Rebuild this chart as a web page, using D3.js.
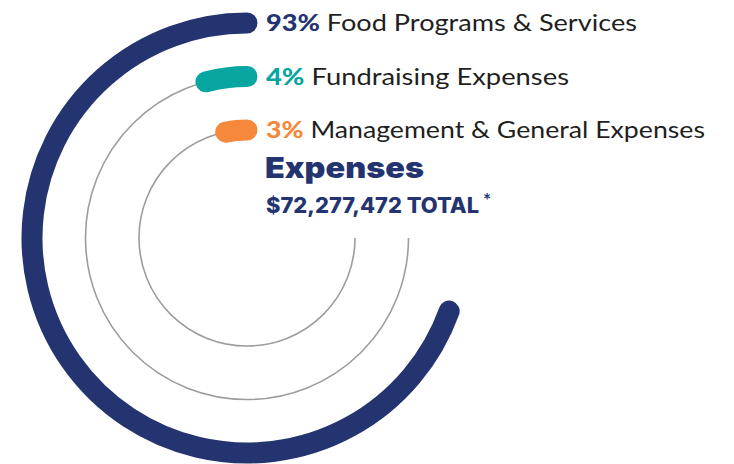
<!DOCTYPE html>
<html>
<head>
<meta charset="utf-8">
<script src="https://cdn.jsdelivr.net/npm/d3@7"></script>
<style>
  body { margin: 0; background: #fff; }
  text { font-family: "Lato", "Noto Sans", sans-serif; }
  .heavy { font-family: "Inter", "Lato", sans-serif; font-weight: 900; }
</style>
</head>
<body>
<svg class="radialBars"></svg>
<script>
// expense categories and their share of total (%)
var categories = ['Food Programs & Services', 'Fundraising Expenses', 'Management & General Expenses'];
var percents = [93, 4, 3];
var colors = ['#243470', '#07a6a1', '#f5883b'];
var title = 'Expenses';
var totalLabel = '$72,277,472 TOTAL';

var width = 734, height = 464;
var cx = 247, cy = 238;
// rendered widths of the labels in the original (its font is wider than ours)
var labelWidths = [371, 303, 439];

var data = categories.map(function(c, i) { return {name: c, value: percents[i], color: colors[i]}; });

// ring radius per category, outer to inner
var r = d3.scalePoint()
  .domain(categories)
  .range([215, 108]);

// sweep angle of each bar, measured counter-clockwise from 12 o'clock
var angle = d3.scalePow()
  .exponent(0.9)
  .domain([0, 100])
  .range([0, 267 * Math.PI / 180]);

var trackSweep = 1.5 * Math.PI;

function arcPath(radius, sweep) {
  var p = d3.path();
  var a0 = -Math.PI / 2;
  p.moveTo(cx + radius * Math.cos(a0), cy + radius * Math.sin(a0));
  p.arc(cx, cy, radius, a0, a0 - sweep, true);
  return p.toString();
}

var svg = d3.select('.radialBars')
  .attr('width', width)
  .attr('height', height);

// thin grey tracks (skip the outer one, it is covered by the bar)
svg.selectAll('.track')
  .data(data.slice(1))
  .enter()
  .append('path')
  .attr('class', 'track')
  .attr('d', function(d) { return arcPath(r(d.name), trackSweep); })
  .attr('fill', 'none')
  .attr('stroke', '#9d9d9d')
  .attr('stroke-width', 1.6);

svg.selectAll('.bar')
  .data(data)
  .enter()
  .append('path')
  .attr('class', 'bar')
  .attr('d', function(d) { return arcPath(r(d.name), angle(d.value)); })
  .attr('fill', 'none')
  .attr('stroke', function(d) { return d.color; })
  .attr('stroke-width', 21)
  .attr('stroke-linecap', 'round');

// labels next to the bar starts
var labels = svg.selectAll('.label')
  .data(data)
  .enter()
  .append('text')
  .attr('class', 'label')
  .attr('x', 266)
  .attr('y', function(d) { return cy - r(d.name); })
  .attr('dy', '0.36em')
  .attr('textLength', function(d, i) { return labelWidths[i]; })
  .attr('lengthAdjust', 'spacingAndGlyphs')
  .style('font-size', '23px');

labels.append('tspan')
  .attr('fill', function(d) { return d.color; })
  .style('font-weight', 900)
  .text(function(d) { return d.value + '%'; });

labels.append('tspan')
  .attr('fill', '#1f1f1f')
  .text(function(d) { return ' ' + d.name; });

svg.append('text')
  .attr('class', 'heavy')
  .attr('x', 265)
  .attr('y', 178)
  .attr('fill', '#243470')
  .attr('textLength', 159)
  .attr('lengthAdjust', 'spacingAndGlyphs')
  .style('font-size', '29px')
  .text(title);

svg.append('text')
  .attr('class', 'heavy')
  .attr('x', 266)
  .attr('y', 213)
  .attr('fill', '#243470')
  .attr('textLength', 213)
  .attr('lengthAdjust', 'spacingAndGlyphs')
  .style('font-size', '21px')
  .style('font-weight', 800)
  .text(totalLabel);

svg.append('text')
  .attr('x', 483)
  .attr('y', 207)
  .attr('fill', '#243470')
  .style('font-size', '19px')
  .style('font-weight', 700)
  .text('*');
</script>
</body>
</html>
